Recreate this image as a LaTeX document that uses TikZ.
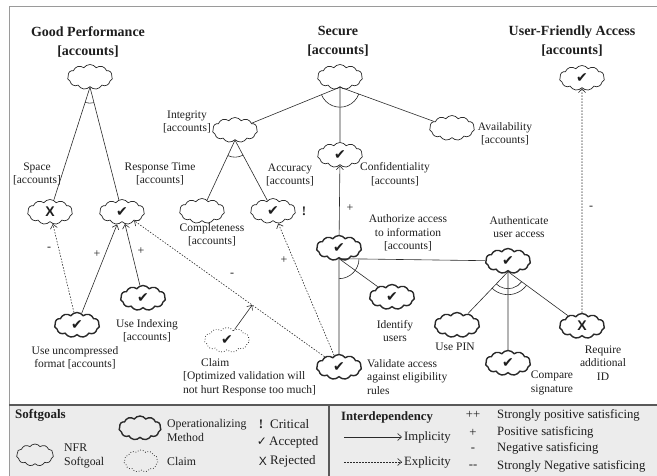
\documentclass[tikz,border=0pt]{standalone}
\usepackage{fontspec}
\setmainfont{Liberation Serif}
\newfontfamily\symfont{DejaVu Sans}
\newfontfamily\xfont{Liberation Sans}
\usetikzlibrary{shapes.symbols,arrows.meta,calc}
\definecolor{linec}{HTML}{2A2A2A}
\definecolor{txtc}{HTML}{1E1E1E}
\definecolor{legbg}{HTML}{ECECEC}
\definecolor{framec}{HTML}{9A9A9A}
\newcommand{\ck}{{\symfont\fontsize{14}{14}\selectfont ✔}}
\newcommand{\rj}{{\xfont\bfseries\fontsize{14}{14}\selectfont X}}
\newcommand{\andarc}[4]{%
  \draw[ln] let \p0=#1, \p1=#2, \p2=#3,
     \n1={atan2(\y1-\y0,\x1-\x0)}, \n2={atan2(\y2-\y0,\x2-\x0)} in
     ($(\p0)+(\n1:#4)$) arc[start angle=\n1, end angle=\n2, radius=#4];}
\begin{document}
\begin{tikzpicture}[x=1pt,y=-1pt,
  sg/.style={cloud, draw=linec, cloud puffs=11, cloud puff arc=110, aspect=1.75,
     minimum width=45pt, minimum height=25pt, inner sep=0pt, line width=0.7pt, fill=white, text=txtc},
  op/.style={sg, line width=1.4pt},
  cl/.style={sg, dotted, line width=0.8pt},
  lbl/.style={font=\fontsize{11.5}{13.5}\selectfont, align=center, inner sep=0pt, text=txtc},
  ttl/.style={font=\bfseries\fontsize{14}{19}\selectfont, align=center, inner sep=0pt, text=txtc},
  ln/.style={draw=linec, line width=0.6pt},
  imp/.style={ln, -{Straight Barb[length=4pt,width=7pt]}},
  expl/.style={imp, dash pattern=on 1.5pt off 1.5pt},
  sgn/.style={font=\fontsize{12}{12}\selectfont, inner sep=0pt, text=txtc},
  leg/.style={font=\fontsize{11.8}{14}\selectfont, align=left, inner sep=0pt, anchor=west, text=txtc},
  legb/.style={font=\fontsize{13}{17}\selectfont, align=left, inner sep=0pt, anchor=west, text=txtc},
  legr/.style={font=\fontsize{12.7}{17}\selectfont, align=left, inner sep=0pt, anchor=west, text=txtc}
]
\useasboundingbox (0,0) rectangle (657,476);
% frame and legend background
\fill[legbg] (9,404) rectangle (657,476);
\draw[framec, line width=0.6pt] (9,476) -- (9,6) -- (657,6);
\draw[gray!70!black, line width=1.5pt] (9,405) -- (657,405);
\draw[gray!70!black, line width=1.5pt] (329,405) -- (329,476);

% titles
\node[ttl] (t1) at (88,42) {Good Performance\\{}[accounts]};
\node[ttl] (t2) at (338,41) {Secure\\{}[accounts]};
\node[ttl] (t3) at (572,41) {User-Friendly Access\\{}[accounts]};

% softgoals
\node[sg] (gp) at (90,77) {};
\node[sg] (sec) at (340,77) {};
\node[sg] (ufa) at (582,78) {\ck};
\node[sg] (integ) at (235,130) {};
\node[sg] (avail) at (452,128) {};
\node[sg] (conf) at (340,155) {\ck};
\node[sg] (space) at (50,212) {\rj};
\node[sg] (rt) at (122,212) {\ck};
\node[sg] (compl) at (202,211) {};
\node[sg] (acc) at (273,211) {\ck};
\node[font=\bfseries\fontsize{13}{13}\selectfont, inner sep=0pt, text=txtc] (crit) at (304,211) {!};

% operationalizations
\node[op] (auth) at (339,248) {\ck};
\node[op] (authn) at (508,261) {\ck};
\node[op] (ident) at (392,297) {\ck};
\node[op] (unc) at (77,325) {\ck};
\node[op] (idx) at (143,298) {\ck};
\node[cl] (claim) at (227,340) {\ck};
\node[op] (pin) at (457,325) {};
\node[op] (reqid) at (582,326) {\rj};
\node[op] (comp) at (508,363) {\ck};
\node[op] (valid) at (339,367) {\ck};

% labels
\node[lbl] (lspace) at (37,174) {Space\\{}[accounts]};
\node[lbl] (lrt) at (160,174) {Response Time\\{}[accounts]};
\node[lbl] (linteg) at (187,122) {Integrity\\{}[accounts]};
\node[lbl] (lacc) at (290,175) {Accuracy\\{}[accounts]};
\node[lbl] (lcompl) at (212,235) {Completeness\\{}[accounts]};
\node[lbl] (lconf) at (395,174) {Confidentiality\\{}[accounts]};
\node[lbl] (lavail) at (505,134) {Availability\\{}[accounts]};
\node[lbl] (lauth) at (408,233) {Authorize access\\to information\\{}[accounts]};
\node[lbl] (lauthn) at (519,227) {Authenticate\\user access};
\node[lbl] (lident) at (395,331) {Identify\\users};
\node[lbl] (lpin) at (455,347) {Use PIN};
\node[lbl] (lcomp) at (552,383) {Compare\\signature};
\node[lbl] (lreq) at (603,363) {Require\\additional\\ID};
\node[lbl, align=left, anchor=west] (lvalid) at (367,377) {Validate access\\against eligibility\\rules};
\node[lbl] (lunc) at (75,358) {Use uncompressed\\format [accounts]};
\node[lbl] (lidx) at (147,331) {Use Indexing\\{}[accounts]};
\node[lbl, align=left, anchor=west] (lclaim) at (183,377) {\hspace*{18pt}Claim\\{}[Optimized validation will\\not hurt Response too much]};

% decompositions
\draw[ln] (gp.south) -- (space);
\draw[ln] (gp.south) -- (rt);
\andarc{(gp.south)}{(space)}{(rt)}{16pt}
\draw[ln] (sec.south) -- (integ);
\draw[ln] (sec.south) -- (avail);
\draw[ln] (sec.south) -- (conf);
\andarc{(sec.south)}{(integ)}{(avail)}{20pt}
\draw[ln] (integ.south) -- (compl);
\draw[ln] (integ.south) -- (acc);
\andarc{(integ.south)}{(compl)}{(acc)}{17pt}
\draw[ln] (auth.south) -- (authn);
\draw[ln] (auth.south) -- (ident);
\draw[ln] (auth.south) -- (valid);
\andarc{(auth.south)}{(valid)}{(authn)}{20pt}
\draw[ln] (authn.south) -- (pin);
\draw[ln] (authn.south) -- (comp);
\draw[ln] (authn.south) -- (reqid);
\andarc{(authn.south)}{(pin)}{(reqid)}{17pt}
\andarc{(authn.south)}{(pin)}{(reqid)}{23pt}

% contributions
\draw[expl] (unc) -- (space);
\draw[imp] (unc) -- (rt);
\draw[imp] (idx) -- (rt);
\draw[expl] (valid) -- coordinate[pos=0.38] (cm) (rt);
\draw[imp] (claim) -- (cm);
\draw[expl] (valid) -- (acc);
\draw[imp] (auth) -- (conf);
\draw[expl] (reqid) -- (ufa);

\node[sgn] (s1) at (49,249) {-};
\node[sgn] (s2) at (97,254) {+};
\node[sgn] (s3) at (141,251) {+};
\node[sgn] (s4) at (232,275) {-};
\node[sgn] (s5) at (284,260) {+};
\node[sgn] (s6) at (350,208) {+};
\node[sgn] (s7) at (591,208) {-};

% legend left
\node[legb, font=\bfseries\fontsize{13}{17}\selectfont] (lsg) at (15,415) {Softgoals};
\node[sg, fill=none, minimum width=37pt, minimum height=22pt] (lnfr) at (35,455) {};
\node[leg] (lnfrt) at (64,456) {NFR\\Softgoal};
\node[op, fill=none, minimum width=42pt, minimum height=24pt] (lop) at (140,428) {};
\node[leg] (lopt) at (167,430) {Operationalizing\\Method};
\node[cl, fill=none, minimum width=34pt, minimum height=22pt] (lcl) at (141,461) {};
\node[leg] (lclt) at (167,461) {Claim};
\node[font=\bfseries\fontsize{13}{13}\selectfont, inner sep=0pt, text=txtc] (lex) at (261,424) {!};
\node[legb] (lcrit) at (270,424) {Critical};
\node[inner sep=0pt, text=txtc] (lck) at (262,442) {{\symfont\fontsize{12}{12}\selectfont ✓}};
\node[legb] (lacc2) at (269,442) {Accepted};
\node[inner sep=0pt, text=txtc] (lrj) at (263,461) {{\xfont\fontsize{12}{12}\selectfont X}};
\node[legb] (lrej) at (270,461) {Rejected};

% legend right
\node[legr, font=\bfseries\fontsize{12.7}{17}\selectfont] (lint) at (341,417) {Interdependency};
\coordinate (ia) at (344,437);
\node[legr] (limp) at (404,437) {Implicity};
\draw[imp] (ia) -- ([xshift=-2pt]limp.west);
\coordinate (ea) at (344,462);
\node[legr] (lexp) at (404,462) {Explicity};
\draw[expl] (ea) -- ([xshift=-2pt]lexp.west);
\node[sgn, font=\fontsize{12.7}{12.7}\selectfont] (pp) at (473,415) {+{}+};
\node[legr] (lpp) at (497,415) {Strongly positive satisficing};
\node[sgn, font=\fontsize{12.7}{12.7}\selectfont] (p1) at (473,433) {+};
\node[legr] (lp1) at (497,432) {Positive satisficing};
\node[sgn, font=\fontsize{12.7}{12.7}\selectfont] (m1) at (473,450) {-};
\node[legr] (lm1) at (497,448) {Negative satisficing};
\node[sgn, font=\fontsize{12.7}{12.7}\selectfont] (mm) at (473,467) {-{}-};
\node[legr] (lmm) at (497,466) {Strongly Negative satisficing};
\end{tikzpicture}
\end{document}
